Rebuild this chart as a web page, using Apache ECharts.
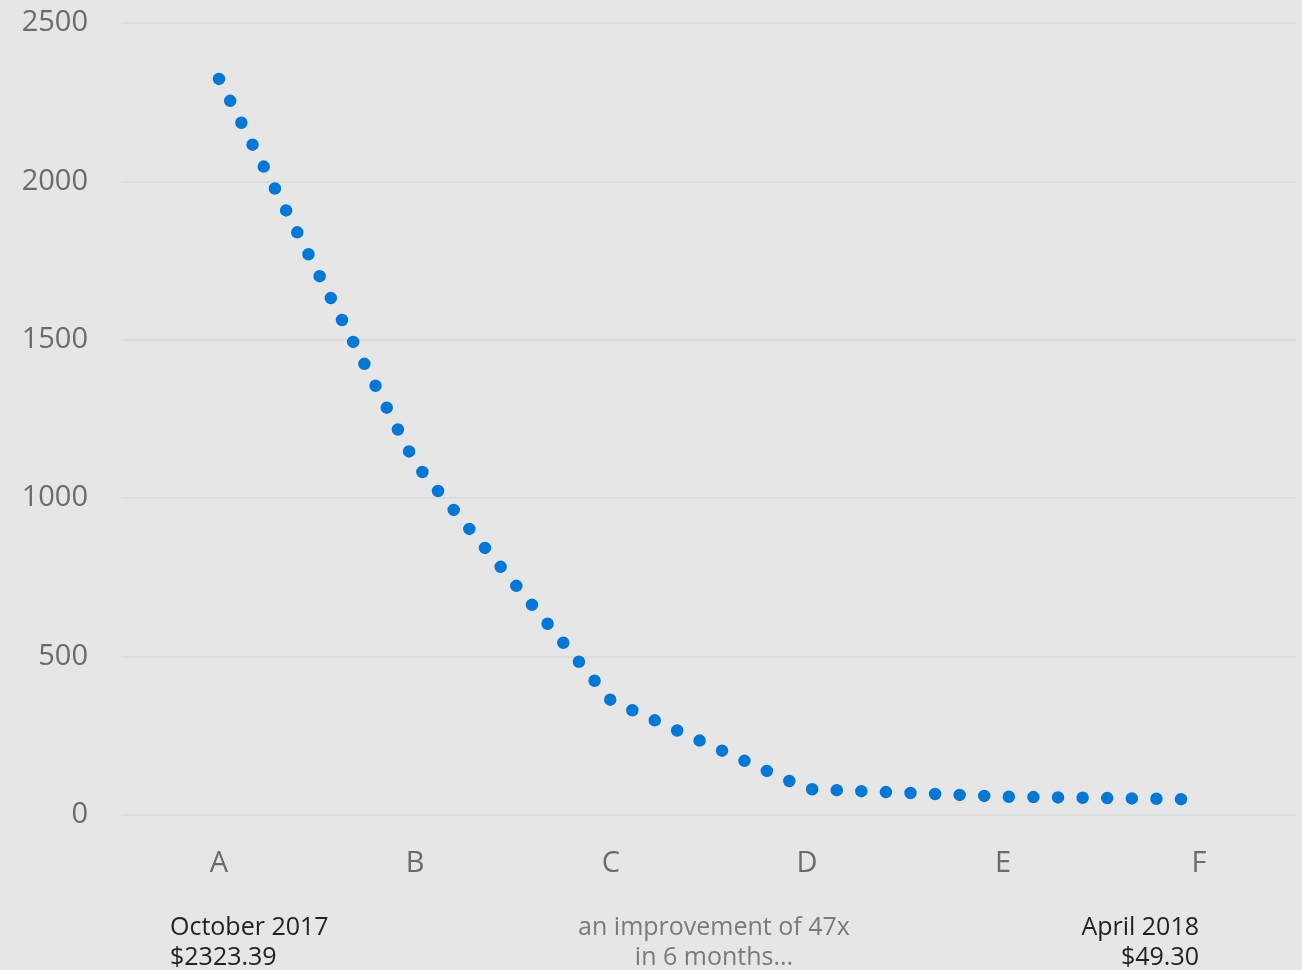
<!DOCTYPE html>
<html>
<head>
<meta charset="utf-8">
<title>Cost per run, October 2017 – April 2018</title>
<script src="https://cdn.jsdelivr.net/npm/echarts@6/dist/echarts.min.js"></script>
<style>
  html, body { margin: 0; padding: 0; background: #e6e6e6; }
  #chart { width: 1302px; height: 970px; }
</style>
</head>
<body>
<div id="chart"></div>
<script>
// Categories along the x axis and the cost at each one
const categories = ['A', 'B', 'C', 'D', 'E', 'F'];
const costs = [2323.39, 1111, 361, 82, 58, 49.3];

// Value axis range and step
const yMin = 0;
const yMax = 2500;
const yStep = 500;

// Captions under the axis
const startPeriod = 'October 2017';
const endPeriod = 'April 2018';
const improvementNote = ['an improvement of 47x', 'in 6 months...'];

const FONT = '"Open Sans", "Noto Sans", sans-serif';
const money = v => '$' + v.toFixed(2);

const chart = echarts.init(document.getElementById('chart'), null, { renderer: 'canvas' });

const W = 1302;
const grid = { left: 121, right: 5, top: 23, bottom: 155 };
const bandWidth = (W - grid.left - grid.right) / categories.length;
const catX = i => grid.left + bandWidth * (i + 0.5);

const captionLine1 = 928;
const captionLine2 = 958;

function caption(text, x, y, align, color) {
  return {
    type: 'text',
    x: x,
    y: y,
    silent: true,
    style: {
      text: text,
      fill: color,
      font: '25px ' + FONT,
      align: align,
      verticalAlign: 'middle'
    }
  };
}

const last = categories.length - 1;

chart.setOption({
  backgroundColor: '#e6e6e6',
  animation: false,
  grid: grid,
  xAxis: {
    type: 'category',
    data: categories,
    boundaryGap: true,
    axisLine: { show: false },
    axisTick: { show: false },
    splitLine: { show: false },
    axisLabel: {
      color: '#6b6b6b',
      fontSize: 29,
      fontFamily: FONT,
      margin: 34
    }
  },
  yAxis: {
    type: 'value',
    min: yMin,
    max: yMax,
    interval: yStep,
    axisLine: { show: false },
    axisTick: { show: false },
    splitLine: { lineStyle: { color: '#dcdcdc', width: 2 } },
    axisLabel: {
      color: '#6b6b6b',
      fontSize: 29,
      fontFamily: FONT,
      margin: 33,
      padding: [5, 0, 0, 0],
      formatter: v => String(v)
    }
  },
  series: [{
    type: 'line',
    data: costs,
    symbol: 'none',
    showSymbol: false,
    smooth: false,
    silent: true,
    lineStyle: {
      color: '#0078d7',
      width: 12.5,
      type: [0, 24.6],
      cap: 'round',
      join: 'round'
    }
  }],
  graphic: [
    caption(startPeriod, 170, captionLine1, 'left', '#222222'),
    caption(money(costs[0]), 170, captionLine2, 'left', '#222222'),
    caption(improvementNote[0], 714, captionLine1, 'center', '#7a7a7a'),
    caption(improvementNote[1], 714, captionLine2, 'center', '#7a7a7a'),
    caption(endPeriod, catX(last), captionLine1, 'right', '#222222'),
    caption(money(costs[last]), catX(last), captionLine2, 'right', '#222222')
  ]
});
</script>
</body>
</html>
